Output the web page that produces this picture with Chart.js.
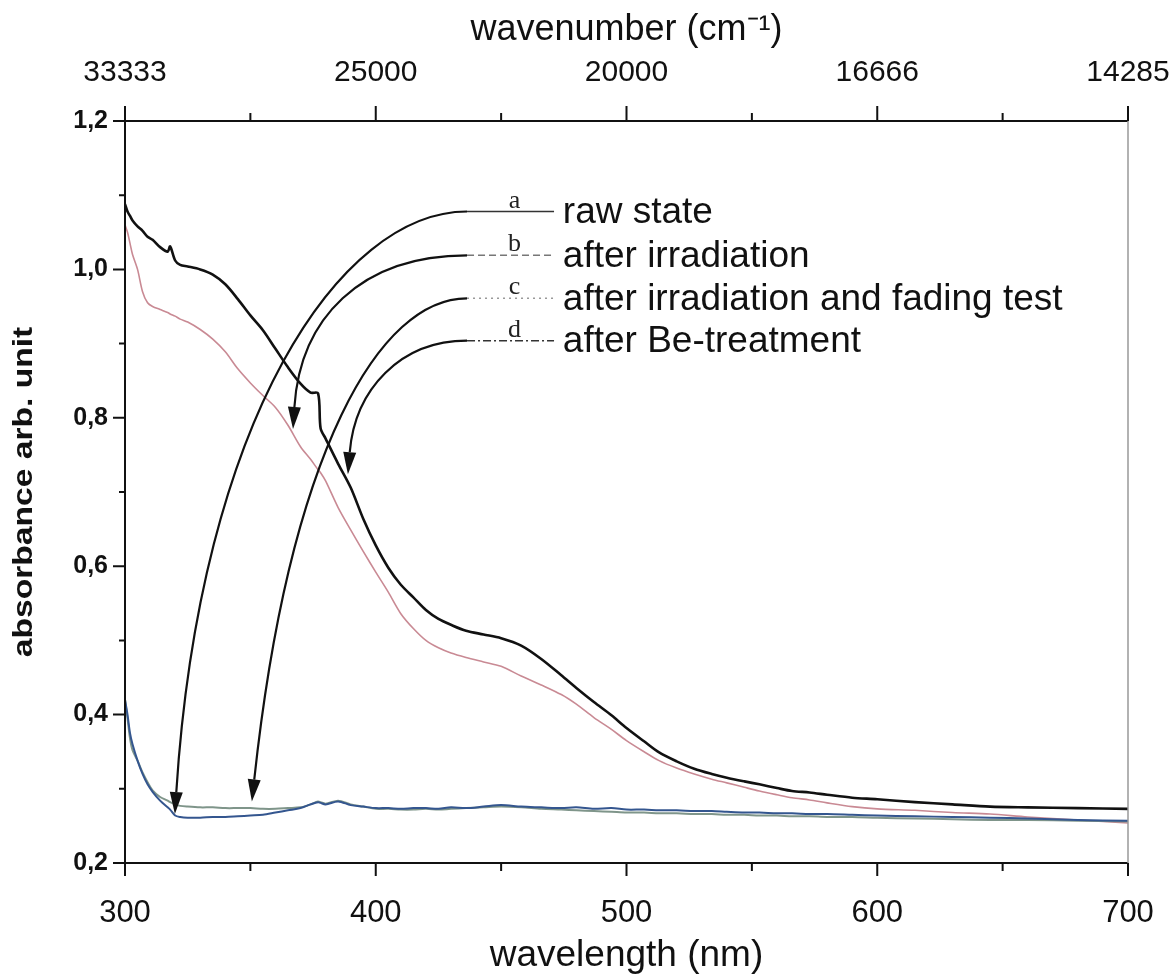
<!DOCTYPE html>
<html>
<head>
<meta charset="utf-8">
<script src="https://cdn.jsdelivr.net/npm/chart.js@4.4.1/dist/chart.umd.min.js"></script>
<style>
  html, body { margin: 0; padding: 0; background: #fff; }
  #wrap { width: 1170px; height: 976px; }
</style>
</head>
<body>
<div id="wrap"><canvas id="grafico" width="1170" height="976"></canvas></div>
<script>
// wavelength grid (nm) shared by the four spectra
const wavelengths = [300, 301, 302, 303, 305, 307, 309, 311, 314, 317, 318, 320, 322, 325, 330, 335, 340, 345, 350, 355,
  360, 365, 370, 374, 377, 378, 380, 385, 390, 395, 400, 405, 410, 415, 420, 425, 430, 436, 443, 450,
  458, 466, 474, 480, 487, 494, 500, 507, 513, 520, 527, 534, 540, 547, 553, 560, 566, 573, 580, 590,
  600, 615, 630, 645, 660, 680, 700];

// a - raw state
const rawState = [0.420, 0.400, 0.375, 0.360, 0.338, 0.320, 0.306, 0.296, 0.284, 0.275, 0.272, 0.264, 0.262, 0.261, 0.261, 0.262, 0.262, 0.263, 0.264, 0.265,
  0.268, 0.271, 0.274, 0.279, 0.282, 0.281, 0.279, 0.283, 0.278, 0.276, 0.274, 0.274, 0.273, 0.274, 0.274, 0.273, 0.275, 0.274, 0.276, 0.278,
  0.276, 0.275, 0.274, 0.275, 0.273, 0.274, 0.272, 0.272, 0.271, 0.271, 0.270, 0.270, 0.269, 0.268, 0.268, 0.267, 0.267, 0.266, 0.266, 0.265,
  0.264, 0.263, 0.262, 0.261, 0.260, 0.258, 0.257];

// b - after irradiation
const irradiated = [1.060, 1.050, 1.035, 1.020, 1.000, 0.970, 0.955, 0.950, 0.946, 0.942, 0.940, 0.937, 0.933, 0.929, 0.919, 0.906, 0.889, 0.866, 0.847, 0.830,
  0.814, 0.790, 0.761, 0.744, 0.730, 0.726, 0.715, 0.679, 0.649, 0.620, 0.592, 0.565, 0.536, 0.516, 0.500, 0.490, 0.483, 0.477, 0.471, 0.465,
  0.452, 0.440, 0.427, 0.414, 0.396, 0.380, 0.365, 0.350, 0.338, 0.328, 0.320, 0.313, 0.308, 0.302, 0.297, 0.292, 0.288, 0.285, 0.281, 0.276,
  0.273, 0.271, 0.268, 0.266, 0.262, 0.258, 0.254];

// c - after irradiation and fading test
const faded = [0.420, 0.395, 0.368, 0.352, 0.338, 0.322, 0.309, 0.298, 0.289, 0.284, 0.282, 0.279, 0.277, 0.276, 0.275, 0.275, 0.274, 0.274, 0.274, 0.273,
  0.273, 0.274, 0.275, 0.279, 0.283, 0.282, 0.280, 0.284, 0.279, 0.276, 0.273, 0.273, 0.272, 0.272, 0.273, 0.272, 0.273, 0.274, 0.275, 0.276,
  0.275, 0.273, 0.272, 0.271, 0.270, 0.269, 0.268, 0.268, 0.267, 0.267, 0.266, 0.266, 0.265, 0.265, 0.264, 0.264, 0.263, 0.263, 0.262, 0.262,
  0.261, 0.260, 0.259, 0.258, 0.258, 0.257, 0.256];

// d - after Be-treatment
const beTreated = [1.088, 1.078, 1.072, 1.066, 1.058, 1.052, 1.044, 1.040, 1.030, 1.024, 1.031, 1.012, 1.006, 1.004, 1.000, 0.993, 0.980, 0.960, 0.938, 0.918,
  0.893, 0.868, 0.846, 0.834, 0.833, 0.786, 0.772, 0.738, 0.706, 0.664, 0.628, 0.598, 0.575, 0.558, 0.541, 0.529, 0.521, 0.513, 0.508, 0.503,
  0.493, 0.475, 0.453, 0.436, 0.417, 0.399, 0.382, 0.364, 0.349, 0.337, 0.327, 0.320, 0.315, 0.310, 0.306, 0.301, 0.297, 0.295, 0.292, 0.288,
  0.286, 0.282, 0.279, 0.276, 0.275, 0.274, 0.273];

const xTicks = [300, 400, 500, 600, 700];
const topTickLabels = ['33333', '25000', '20000', '16666', '14285'];
const legendLetters = ['a', 'b', 'c', 'd'];
const legendTexts = ['raw state', 'after irradiation', 'after irradiation and fading test', 'after Be-treatment'];

// legend rows and arrow paths, given in data units (nm, absorbance)
const legendBox = { x0: 436.4, x1: 471.1, xText: 474.6, rows: [1.078, 1.019, 0.961, 0.904] };
const arrows = [
  [[436.4, 1.078], [385.7, 1.078], [329.9, 0.798], [319.9, 0.266]],
  [[436.4, 1.019], [393.7, 1.019], [369.8, 0.933], [367.0, 0.785]],
  [[436.4, 0.961], [401.7, 0.961], [365.8, 0.758], [350.6, 0.283]],
  [[436.4, 0.904], [409.7, 0.904], [391.7, 0.838], [388.9, 0.724]]
];

const FONT = '"Liberation Sans", Arial, sans-serif';
const legendDash = [[], [7, 4], [2, 4], [8, 3, 2, 3]];
const legendColor = ['#333', '#777', '#999', '#333'];

const toPoints = (ys) => wavelengths.map((w, i) => ({ x: w, y: ys[i] }));

const dibujarMarco = {
  id: 'marco',
  afterDraw(chart) {
    const ctx = chart.ctx;
    const a = chart.chartArea;
    const x = chart.scales.x;
    const y = chart.scales.y;
    ctx.save();
    // frame
    ctx.lineWidth = 2;
    ctx.strokeStyle = '#111';
    ctx.beginPath();
    ctx.moveTo(a.left, a.top); ctx.lineTo(a.right, a.top);
    ctx.moveTo(a.left, a.top); ctx.lineTo(a.left, a.bottom); ctx.lineTo(a.right, a.bottom);
    ctx.stroke();
    ctx.lineWidth = 1.5;
    ctx.strokeStyle = '#999';
    ctx.beginPath();
    ctx.moveTo(a.right, a.top); ctx.lineTo(a.right, a.bottom);
    ctx.stroke();

    // ticks
    ctx.lineWidth = 2;
    ctx.strokeStyle = '#111';
    ctx.beginPath();
    for (let w = 300; w <= 700; w += 50) {
      const px = x.getPixelForValue(w);
      const major = w % 100 === 0;
      ctx.moveTo(px, a.bottom); ctx.lineTo(px, a.bottom + (major ? 13 : 8));
      ctx.moveTo(px, a.top); ctx.lineTo(px, a.top - (major ? 15 : 8));
    }
    for (let k = 2; k <= 12; k++) {
      const py = y.getPixelForValue(k / 10);
      ctx.moveTo(a.left, py); ctx.lineTo(a.left - (k % 2 === 0 ? 12 : 6), py);
    }
    ctx.stroke();

    // arrows
    ctx.lineWidth = 2.2;
    ctx.strokeStyle = '#111';
    ctx.fillStyle = '#111';
    arrows.forEach(pts => {
      const p = pts.map(q => [x.getPixelForValue(q[0]), y.getPixelForValue(q[1])]);
      const dx = p[3][0] - p[2][0], dy = p[3][1] - p[2][1];
      const len = Math.hypot(dx, dy);
      const ux = dx / len, uy = dy / len;
      const head = 22, half = 6.5;
      const bx = p[3][0] - ux * head, by = p[3][1] - uy * head;
      ctx.beginPath();
      ctx.moveTo(p[0][0], p[0][1]);
      ctx.bezierCurveTo(p[1][0], p[1][1], p[2][0], p[2][1], bx, by);
      ctx.stroke();
      ctx.beginPath();
      ctx.moveTo(p[3][0], p[3][1]);
      ctx.lineTo(bx - uy * half, by + ux * half);
      ctx.lineTo(bx + uy * half, by - ux * half);
      ctx.closePath();
      ctx.fill();
    });

    // legend
    const lx0 = x.getPixelForValue(legendBox.x0);
    const lx1 = x.getPixelForValue(legendBox.x1);
    const tx = x.getPixelForValue(legendBox.xText);
    legendBox.rows.forEach((r, i) => {
      const py = y.getPixelForValue(r);
      ctx.setLineDash(legendDash[i]);
      ctx.lineWidth = 1.5;
      ctx.strokeStyle = legendColor[i];
      ctx.beginPath();
      ctx.moveTo(lx0, py); ctx.lineTo(lx1, py);
      ctx.stroke();
      ctx.setLineDash([]);
      ctx.fillStyle = '#222';
      ctx.font = '26px "Liberation Serif", "Times New Roman", serif';
      ctx.textAlign = 'center';
      ctx.textBaseline = 'alphabetic';
      ctx.fillText(legendLetters[i], (lx0 + lx1) / 2 + 4, py - 4);
      ctx.font = '37px ' + FONT;
      ctx.textAlign = 'left';
      ctx.textBaseline = 'middle';
      ctx.fillStyle = '#111';
      ctx.fillText(legendTexts[i], tx, py + 1);
    });

    // y axis title, drawn a bit wider than the font
    ctx.translate(24, (a.top + a.bottom) / 2);
    ctx.rotate(-Math.PI / 2);
    ctx.scale(1.2, 1);
    ctx.font = 'bold 28px ' + FONT;
    ctx.fillStyle = '#111';
    ctx.textAlign = 'center';
    ctx.textBaseline = 'middle';
    ctx.fillText('absorbance arb. unit', 0, 0);
    ctx.restore();
  }
};

const noPad = s => { s.paddingLeft = 0; s.paddingRight = 0; };

const chart = new Chart(document.getElementById('grafico'), {
  type: 'line',
  data: {
    datasets: [
      { label: 'raw state', data: toPoints(rawState), borderColor: '#34568f', borderWidth: 2 },
      { label: 'after irradiation and fading test', data: toPoints(faded), borderColor: '#7f958a', borderWidth: 2 },
      { label: 'after irradiation', data: toPoints(irradiated), borderColor: '#c98a94', borderWidth: 1.6 },
      { label: 'after Be-treatment', data: toPoints(beTreated), borderColor: '#111', borderWidth: 2.6 }
    ]
  },
  options: {
    responsive: false,
    animation: false,
    layout: { padding: { left: 0, right: 42, top: 0, bottom: 0 } },
    elements: { point: { radius: 0 }, line: { tension: 0.3 } },
    plugins: { legend: { display: false }, tooltip: { enabled: false } },
    scales: {
      x: {
        type: 'linear', position: 'bottom', min: 300, max: 700,
        afterBuildTicks: s => { s.ticks = xTicks.map(v => ({ value: v })); },
        ticks: { padding: 24, color: '#111', font: { family: FONT, size: 31 }, maxRotation: 0, callback: v => String(v) },
        grid: { display: false }, border: { display: false },
        title: { display: true, text: 'wavelength (nm)', color: '#111', font: { family: FONT, size: 37, lineHeight: 1 }, padding: { top: 0, bottom: 2 } },
        afterFit: s => { s.height = 113; noPad(s); }
      },
      x2: {
        type: 'linear', position: 'top', min: 300, max: 700,
        afterBuildTicks: s => { s.ticks = xTicks.map(v => ({ value: v })); },
        ticks: { padding: 22, color: '#111', font: { family: FONT, size: 30 }, maxRotation: 0, callback: (v, i) => topTickLabels[i] },
        grid: { display: false }, border: { display: false },
        title: { display: true, text: 'wavenumber (cm⁻¹)', color: '#111', font: { family: FONT, size: 36, lineHeight: 1 }, padding: { top: 12, bottom: 0 } },
        afterFit: s => { s.height = 121; noPad(s); }
      },
      y: {
        min: 0.2, max: 1.2,
        ticks: { stepSize: 0.2, padding: 9, color: '#111', font: { family: FONT, size: 25, weight: 'bold' }, callback: v => v.toFixed(1).replace('.', ',') },
        grid: { display: false }, border: { display: false },
        title: { display: false },
        afterFit: s => { s.width = 125; }
      }
    }
  },
  plugins: [dibujarMarco]
});
</script>
</body>
</html>
